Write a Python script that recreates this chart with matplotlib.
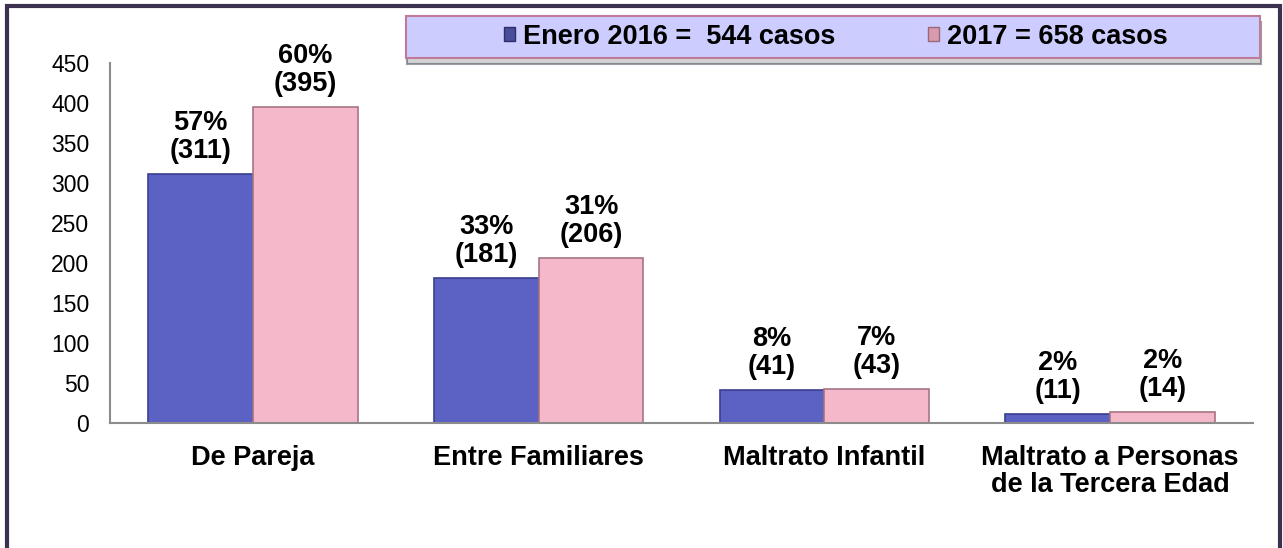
import matplotlib
matplotlib.use('Agg')
import matplotlib.pyplot as plt
from matplotlib.patches import Rectangle, Patch, Shadow
import numpy as np

plt.rcParams['font.family'] = ['Liberation Sans', 'DejaVu Sans']

# Datos del grafico
categorias = ['De Pareja', 'Entre Familiares', 'Maltrato Infantil',
              'Maltrato a Personas\nde la Tercera Edad']
casos_2016 = [311, 181, 41, 11]
casos_2017 = [395, 206, 43, 14]
pct_2016 = ['57%', '33%', '8%', '2%']
pct_2017 = ['60%', '31%', '7%', '2%']
etiquetas_leyenda = ['Enero 2016 =  544 casos', '2017 = 658 casos']

AZUL = '#5C61C4'
ROSA = '#F5B7CA'

W, H = 1283, 548
fig = plt.figure(figsize=(W / 100, H / 100), dpi=100)
ax = fig.add_axes([110 / W, 1 - 423 / H, (1253 - 110) / W, (423 - 63) / H])

x = np.arange(len(categorias))
ancho = 0.367
b1 = ax.bar(x - ancho / 2, casos_2016, ancho, color=AZUL, edgecolor='#3B3F8E', linewidth=1.2)
b2 = ax.bar(x + ancho / 2, casos_2017, ancho, color=ROSA, edgecolor='#A87484', linewidth=1.2)

# etiquetas sobre las barras
for barras, pcts, vals in [(b1, pct_2016, casos_2016), (b2, pct_2017, casos_2017)]:
    for rect, p, v in zip(barras, pcts, vals):
        ax.annotate(f'{p}\n({v})', (rect.get_x() + rect.get_width() / 2, rect.get_height()),
                    xytext=(0, 7), textcoords='offset points', ha='center', va='bottom',
                    fontsize=19.5, fontweight='bold', linespacing=1.1)

ax.set_xlim(-0.5, len(categorias) - 0.5)
ax.set_ylim(0, 450)
ax.set_yticks(np.arange(0, 451, 50))
ax.set_xticks(x)
ax.set_xticklabels(categorias, fontsize=19.5, fontweight='bold', linespacing=1.05)
ax.tick_params(axis='y', length=0, pad=15, labelsize=16.5)
ax.tick_params(axis='x', length=0, pad=16)
for s in ['top', 'right']:
    ax.spines[s].set_visible(False)
ax.spines['left'].set_color('#8C8C8C')
ax.spines['bottom'].set_color('#8C8C8C')
ax.spines['left'].set_linewidth(1.5)
ax.spines['bottom'].set_linewidth(1.5)

# marco exterior
fig.add_artist(Rectangle((7 / W, -0.05), (1280 - 7) / W, 1.05 - 6 / H, transform=fig.transFigure,
                         fill=False, edgecolor='#3D3150', linewidth=3))

# caja de la leyenda con sombra
caja = Rectangle((406 / W, 1 - 58 / H), (1260 - 406) / W, 42 / H, transform=fig.transFigure,
                 facecolor='#CCCCFF', edgecolor='#C27A9A', linewidth=1.5, zorder=3)
sombra = Shadow(caja, 1 / W, -4 / H, facecolor='#A8A8A8', alpha=0.5, zorder=2)
fig.add_artist(sombra)
fig.add_artist(caja)

manejadores = [Patch(facecolor='#4A4E9A', edgecolor='#2E2F6A'),
               Patch(facecolor='#D89AAE', edgecolor='#9A6878')]
leg = fig.legend(manejadores, etiquetas_leyenda, loc='center', bbox_to_anchor=(836 / W, 1 - 37 / H),
                 ncol=2, frameon=False, columnspacing=3.4, handlelength=0.42, handleheight=0.42,
                 handletextpad=0.3, prop={'size': 19.5, 'weight': 'bold'})
leg.set_zorder(4)

fig.savefig('out.png', dpi=100)
